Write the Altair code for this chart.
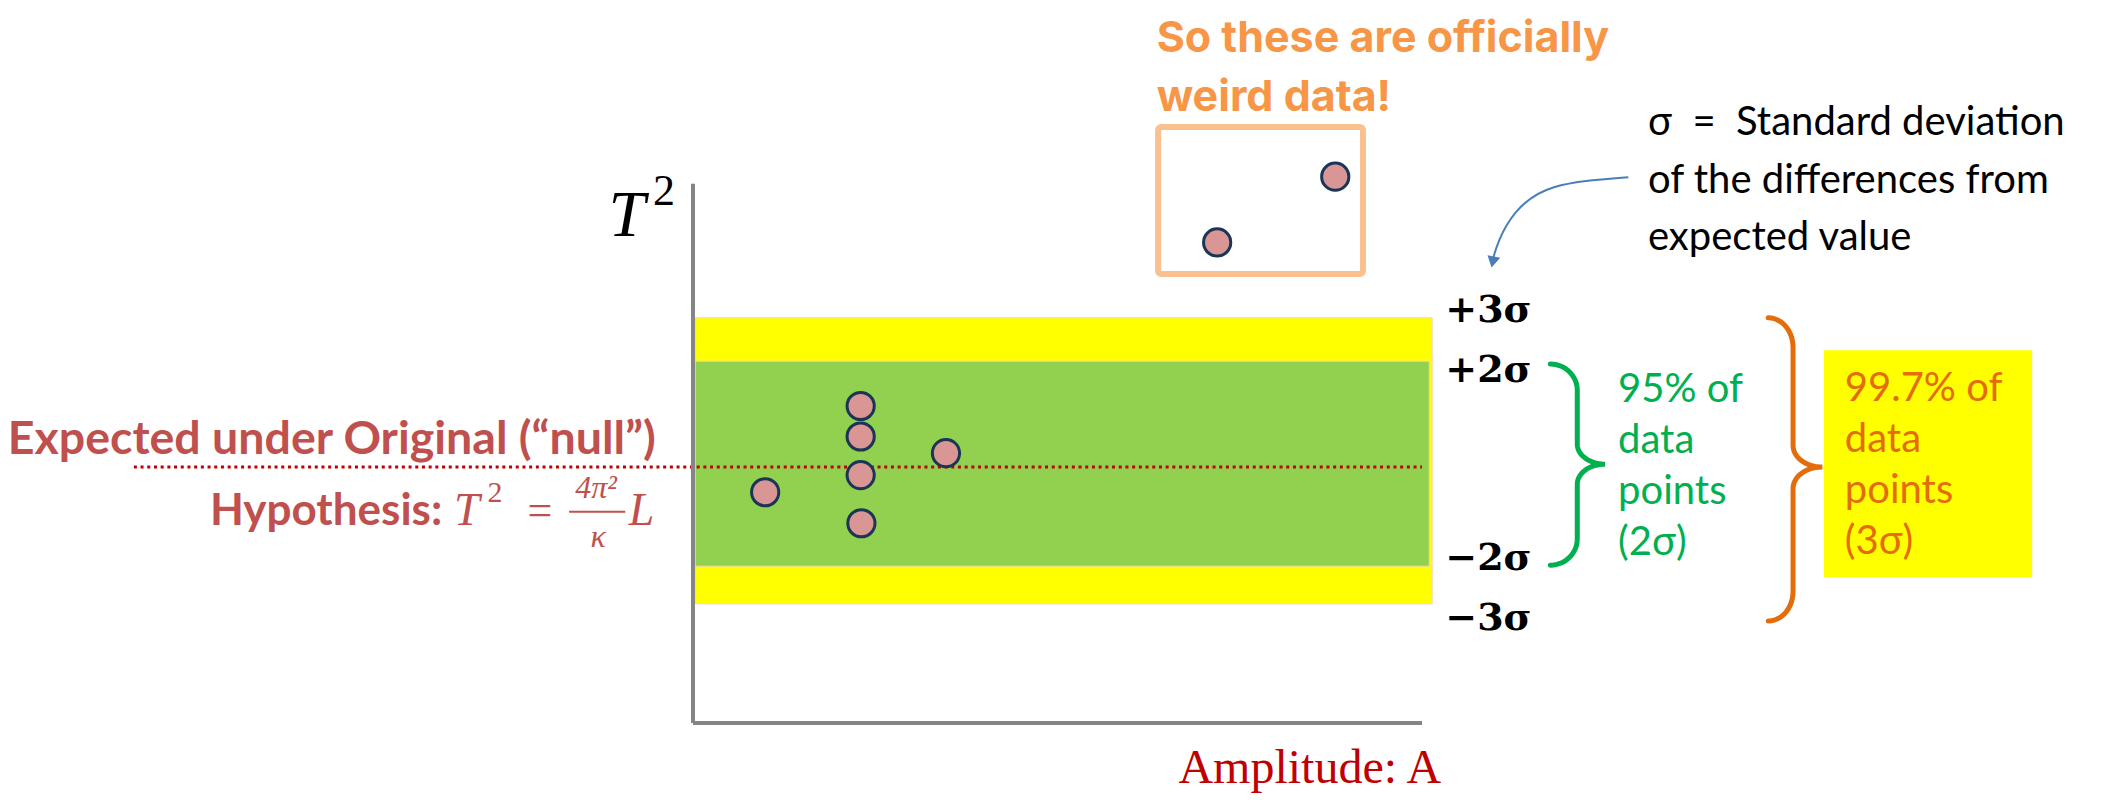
import altair as alt
import pandas as pd
import numpy as np

# ---------------- data -------------------------------------------------------
# x: amplitude (arbitrary units, axis runs 0..10)
# y: T^2 deviation from the expected value, in units of sigma (0 = expected)
point_x = [0.99, 2.30, 2.30, 2.30, 2.31, 3.47, 7.19, 8.81]
point_y = [-0.53, 1.28, 0.64, -0.17, -1.18, 0.29, 4.71, 6.09]

band_name = ["3 sigma", "2 sigma"]
band_low = [-2.87, -2.08]
band_high = [3.13, 2.22]
band_start = [0.03, 0.03]
band_end = [10.14, 10.10]
band_color = ["#FFFF00", "#92D050"]

expected_value = 0.0
expected_line_start = -7.67
axis_x_end = 10.0
axis_y_top = 5.94
axis_y_bottom = -5.37

weird_box = {"x": 6.38, "x2": 9.19, "y": 4.05, "y2": 7.13}

sigma_labels = ["+3σ", "+2σ", "−2σ", "−3σ"]
sigma_label_y = [3.04, 1.78, -2.16, -3.42]
sigma_label_x = 10.32

green_lines = ["95% of", "data", "points", "(2σ)"]
orange_lines = ["99.7% of", "data", "points", "(3σ)"]
title_lines = ["So these are officially", "weird data!"]
sigma_def_lines = ["σ\u00a0\u00a0=\u00a0\u00a0Standard deviation", "of the differences from",
                   "expected value"]
arrow_x = [12.83, 11.81, 11.28, 11.06, 10.98]
arrow_y = [6.08, 5.87, 5.33, 4.76, 4.40]

# ---------------- scales (page layout) ----------------------------------------
W, H = 2100, 787
x_origin_px, x_px_per_unit = 685.0, 72.9      # position of x=0 inside the plot area
y_origin_px, y_px_per_unit = 459.0, 47.67     # position of y=0 inside the plot area
xdom = [-x_origin_px / x_px_per_unit, (W - x_origin_px) / x_px_per_unit]
ydom = [-(H - y_origin_px) / y_px_per_unit, y_origin_px / y_px_per_unit]
XS = alt.Scale(domain=xdom, nice=False, zero=False)
YS = alt.Scale(domain=ydom, nice=False, zero=False)


def X(f="x"):
    return alt.X(f"{f}:Q", scale=XS, axis=None)


def Y(f="y"):
    return alt.Y(f"{f}:Q", scale=YS, axis=None)


SANS = "Lato"
SERIF = "Liberation Serif"

# ---------------- bands -------------------------------------------------------
bands = pd.DataFrame({"name": band_name, "x": band_start, "x2": band_end,
                      "y": band_low, "y2": band_high, "c": band_color})
band_layer = alt.Chart(bands).mark_rect(stroke="#F8D0B8", strokeWidth=1).encode(
    x=X(), x2="x2:Q", y=Y(), y2="y2:Q", fill=alt.Fill("c:N", scale=None))

expected = pd.DataFrame({"x": [expected_line_start], "x2": [axis_x_end], "y": [expected_value]})
expected_layer = alt.Chart(expected).mark_rule(
    color="#C00000", strokeWidth=3, strokeDash=[3, 3.7]).encode(x=X(), x2="x2:Q", y=Y())

axes = pd.DataFrame({"x": [0.0, 0.0], "x2": [0.0, axis_x_end],
                     "y": [axis_y_bottom, axis_y_bottom], "y2": [axis_y_top, axis_y_bottom]})
axis_layer = alt.Chart(axes).mark_rule(color="#858585", strokeWidth=4).encode(
    x=X(), x2="x2:Q", y=Y(), y2="y2:Q")

box = pd.DataFrame([weird_box])
box_layer = alt.Chart(box).mark_rect(
    fillOpacity=0, stroke="#FAC090", strokeWidth=6, cornerRadius=3).encode(
    x=X(), x2="x2:Q", y=Y(), y2="y2:Q")

points = pd.DataFrame({"x": point_x, "y": point_y})
point_layer = alt.Chart(points).mark_point(
    shape="circle", filled=True, fill="#D99694", stroke="#1B3556",
    strokeWidth=3, size=740, opacity=1).encode(x=X(), y=Y())


# ---------------- text helpers -----------------------------------------------
def text_at(x, y, text, **kw):
    df = pd.DataFrame({"x": [x], "y": [y]})
    params = dict(baseline="alphabetic", align="left")
    params.update(kw)
    return alt.Chart(df).mark_text(**params).encode(
        x=X(), y=Y(), text=alt.value(text))


layers = [band_layer, expected_layer, axis_layer, box_layer, point_layer]

# sigma labels
for lab, yy in zip(sigma_labels, sigma_label_y):
    layers.append(text_at(sigma_label_x, yy, lab, font="DejaVu Serif", fontSize=38,
                          fontWeight="bold", color="#000000"))

# yellow box behind orange text
ybox = pd.DataFrame({"x": [15.51], "x2": [18.37], "y": [-2.31], "y2": [2.45]})
layers.append(alt.Chart(ybox).mark_rect(fill="#FFFF00").encode(
    x=X(), x2="x2:Q", y=Y(), y2="y2:Q"))

layers.append(text_at(12.69, 1.36, green_lines, font=SANS, fontSize=40,
                      lineHeight=51, color="#00B050"))
layers.append(text_at(15.80, 1.38, orange_lines, font=SANS, fontSize=40,
                      lineHeight=51, color="#E46C0A"))
layers.append(text_at(6.36, 8.71, title_lines, font="Inter", fontSize=43,
                      fontWeight="bold", lineHeight=59, color="#F79646"))
layers.append(text_at(13.10, 6.96, sigma_def_lines, font=SANS, fontSize=40,
                      lineHeight=57.5, color="#000000"))

# y-axis title T^2
layers.append(text_at(-1.16, 4.85, "T", font=SERIF, fontSize=66, fontStyle="italic"))
layers.append(text_at(-0.55, 5.50, "2", font=SERIF, fontSize=44))

# x-axis title
layers.append(text_at(8.46, -6.62, "Amplitude: A", font=SERIF, fontSize=48,
                      align="center", color="#C00000"))

# null-hypothesis label
RED = "#C0504D"
layers.append(text_at(-0.51, 0.27, "Expected under Original (\u201cnull\u201d)", font=SANS,
                      fontSize=46.5, fontWeight="bold", align="right", color=RED))
layers.append(text_at(-3.44, -1.22, "Hypothesis:", font=SANS, fontSize=44,
                      fontWeight="bold", align="right", color=RED))
layers.append(text_at(-3.28, -1.22, "T", font=SERIF, fontSize=46, fontStyle="italic", color=RED))
layers.append(text_at(-2.82, -0.74, "2", font=SERIF, fontSize=30, color=RED))
layers.append(text_at(-2.10, -1.22, "=", font=SERIF, fontSize=44, align="center", color=RED))
layers.append(text_at(-1.33, -0.66, "4π²", font=SERIF, fontSize=32, fontStyle="italic",
                      align="center", color=RED))
layers.append(text_at(-1.30, -1.68, "κ", font=SERIF, fontSize=32, fontStyle="italic",
                      align="center", color=RED))
layers.append(text_at(-0.88, -1.22, "L", font=SERIF, fontSize=46, fontStyle="italic", color=RED))
frac = pd.DataFrame({"x": [-1.70], "x2": [-0.93], "y": [-0.94]})
layers.append(alt.Chart(frac).mark_rule(color=RED, strokeWidth=2).encode(
    x=X(), x2="x2:Q", y=Y()))


# ---------------- braces ------------------------------------------------------
def brace_path(x_left, x_mid, x_tip, y_top, y_bottom, y_tip, r_end, r_tip, n=14):
    t = np.linspace(0, np.pi / 2, n)
    xs, ys = [], []
    xs += list(x_left + (x_mid - x_left) * np.sin(t))
    ys += list(y_top - r_end + r_end * np.cos(t))
    xs += list(x_mid + (x_tip - x_mid) * (1 - np.cos(t)))
    ys += list(y_tip + r_tip * (1 - np.sin(t)))
    tr = t[::-1]
    xs += list(x_mid + (x_tip - x_mid) * (1 - np.cos(tr)))
    ys += list(y_tip - r_tip * (1 - np.sin(tr)))
    xs += list(x_left + (x_mid - x_left) * np.sin(tr))
    ys += list(y_bottom + r_end - r_end * np.cos(tr))
    return pd.DataFrame({"x": xs, "y": ys, "o": range(len(xs))})


green_brace = brace_path(11.76, 12.13, 12.51, 2.16, -2.06, 0.06, 0.55, 0.42)
orange_brace = brace_path(14.75, 15.09, 15.49, 3.13, -3.23, 0.0, 0.62, 0.45)
layers.append(alt.Chart(green_brace).mark_line(color="#00B050", strokeWidth=5,
                                               strokeCap="round").encode(
    x=X(), y=Y(), order="o:Q"))
layers.append(alt.Chart(orange_brace).mark_line(color="#E46C0A", strokeWidth=5,
                                                strokeCap="round").encode(
    x=X(), y=Y(), order="o:Q"))

# ---------------- curved arrow ------------------------------------------------
arrow = pd.DataFrame({"x": arrow_x, "y": arrow_y, "o": range(len(arrow_x))})
layers.append(alt.Chart(arrow).mark_line(color="#4A7EBB", strokeWidth=2,
                                         interpolate="natural").encode(
    x=X(), y=Y(), order="o:Q"))
head = pd.DataFrame({"x": [10.97], "y": [4.30]})
layers.append(alt.Chart(head).mark_point(shape="triangle-down", filled=True,
                                         fill="#4A7EBB", size=170, angle=12,
                                         opacity=1).encode(x=X(), y=Y()))

chart = alt.layer(*layers).properties(
    width=W, height=H,
    autosize=alt.AutoSizeParams(type="none"),
    padding=0,
).configure_view(stroke=None)

chart.save("out.html", embed_options={"renderer": "svg", "actions": False})
